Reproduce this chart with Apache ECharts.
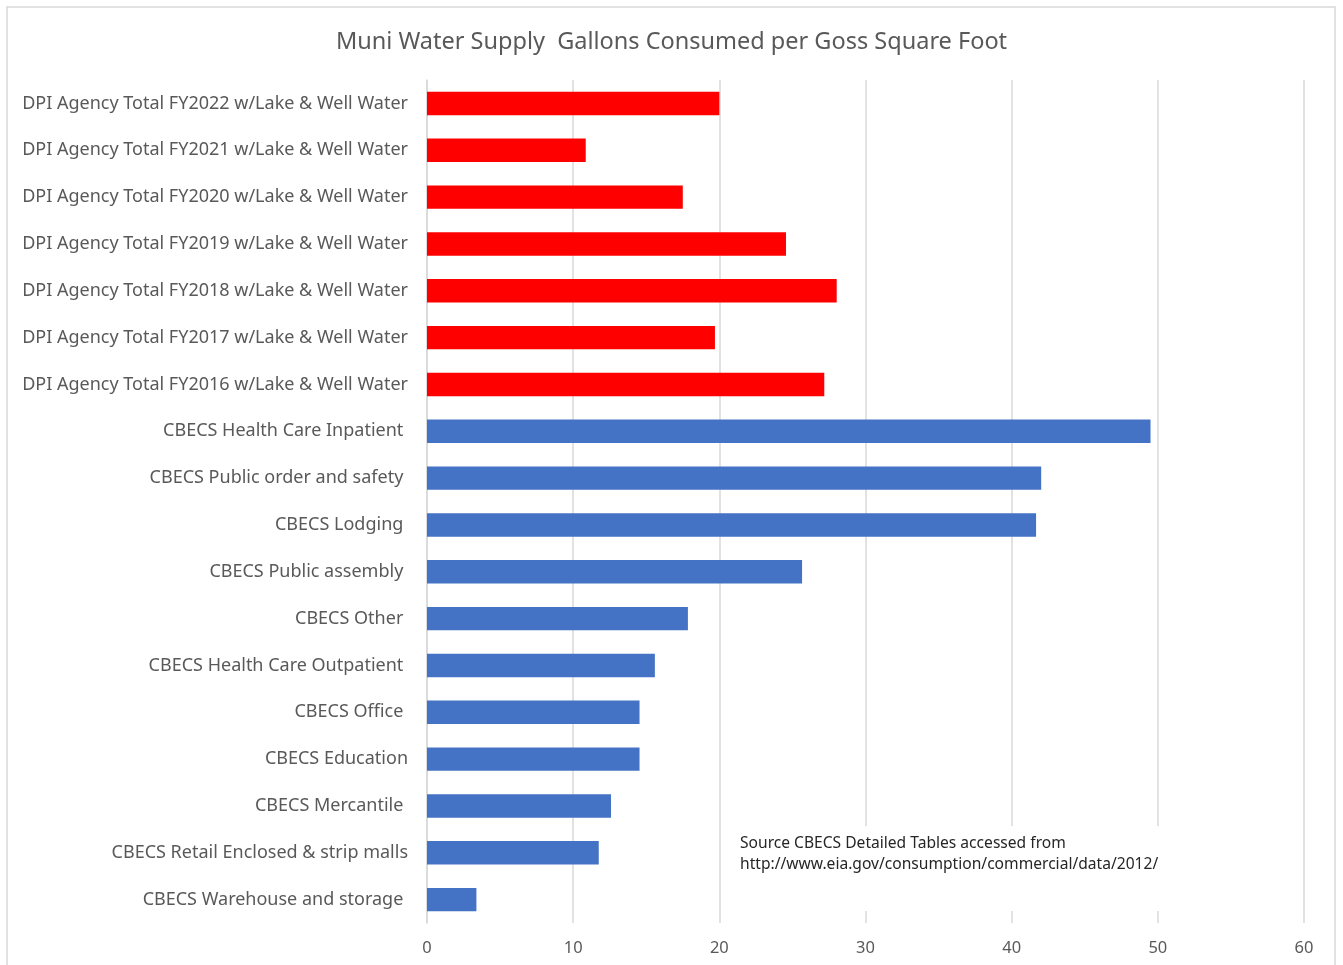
<!DOCTYPE html>
<html>
<head>
<meta charset="utf-8">
<script src="https://cdn.jsdelivr.net/npm/echarts@6/dist/echarts.min.js"></script>
<style>
html,body{margin:0;padding:0;background:#fff;}
#chart{width:1343px;height:965px;}
</style>
</head>
<body>
<div id="chart"></div>
<script>
var titleText = 'Muni Water Supply  Gallons Consumed per Goss Square Foot';
var categories = [
  'DPI Agency Total FY2022 w/Lake & Well Water',
  'DPI Agency Total FY2021 w/Lake & Well Water',
  'DPI Agency Total FY2020 w/Lake & Well Water',
  'DPI Agency Total FY2019 w/Lake & Well Water',
  'DPI Agency Total FY2018 w/Lake & Well Water',
  'DPI Agency Total FY2017 w/Lake & Well Water',
  'DPI Agency Total FY2016 w/Lake & Well Water',
  'CBECS Health Care Inpatient ',
  'CBECS Public order and safety ',
  'CBECS Lodging ',
  'CBECS Public assembly ',
  'CBECS Other ',
  'CBECS Health Care Outpatient ',
  'CBECS Office ',
  'CBECS Education',
  'CBECS Mercantile ',
  'CBECS Retail Enclosed & strip malls',
  'CBECS Warehouse and storage '
];
var values = [20.0, 10.86, 17.5, 24.56, 28.03, 19.7, 27.18, 49.5, 42.02, 41.67, 25.66, 17.85, 15.59, 14.54, 14.54, 12.59, 11.75, 3.38];
var groups = ['DPI','DPI','DPI','DPI','DPI','DPI','DPI','CBECS','CBECS','CBECS','CBECS','CBECS','CBECS','CBECS','CBECS','CBECS','CBECS','CBECS'];
var groupColors = { DPI: '#FF0000', CBECS: '#4472C4' };
var xTicks = [0, 10, 20, 30, 40, 50, 60];
var noteLines = ['Source CBECS Detailed Tables accessed from', 'http://www.eia.gov/consumption/commercial/data/2012/'];

var chart = echarts.init(document.getElementById('chart'));
var FONT = '"Noto Sans", sans-serif';
chart.setOption({
  animation: false,
  backgroundColor: '#fff',
  title: {
    text: titleText,
    left: 'center',
    top: 25,
    textStyle: { fontFamily: FONT, fontSize: 23.5, fontWeight: 'normal', color: '#595959' }
  },
  grid: { left: 427, right: 39, top: 80, bottom: 42, containLabel: false },
  xAxis: {
    type: 'value',
    min: xTicks[0],
    max: xTicks[xTicks.length - 1],
    interval: xTicks[1] - xTicks[0],
    axisLine: { show: false },
    axisTick: { show: false },
    axisLabel: { fontFamily: FONT, fontSize: 16.5, color: '#595959', margin: 17 },
    splitLine: { show: true, lineStyle: { color: '#d9d9d9', width: 1.5 } }
  },
  yAxis: {
    type: 'category',
    inverse: true,
    data: categories,
    axisLine: { show: true, lineStyle: { color: '#d9d9d9', width: 1.5 } },
    axisTick: { show: false },
    axisLabel: { fontFamily: FONT, fontSize: 18, color: '#595959', margin: 19 }
  },
  series: [{
    type: 'bar',
    barCategoryGap: '50%',
    data: values.map(function (v, i) {
      return { value: v, itemStyle: { color: groupColors[groups[i]] } };
    })
  }],
  graphic: [
    {
      type: 'rect', z: 0, silent: true,
      shape: { x: 7, y: 7, width: 1328, height: 980 },
      style: { fill: 'none', stroke: '#d9d9d9', lineWidth: 1.5 }
    },
    {
      type: 'rect', z: 100, silent: true,
      shape: { x: 730, y: 826, width: 445, height: 85 },
      style: { fill: '#ffffff' }
    },
    {
      type: 'text', z: 101, silent: true,
      left: 740, top: 833,
      style: {
        text: noteLines.join('\n'),
        font: '15.6px ' + FONT,
        fill: '#262626',
        lineHeight: 21
      }
    }
  ]
});
</script>
</body>
</html>
